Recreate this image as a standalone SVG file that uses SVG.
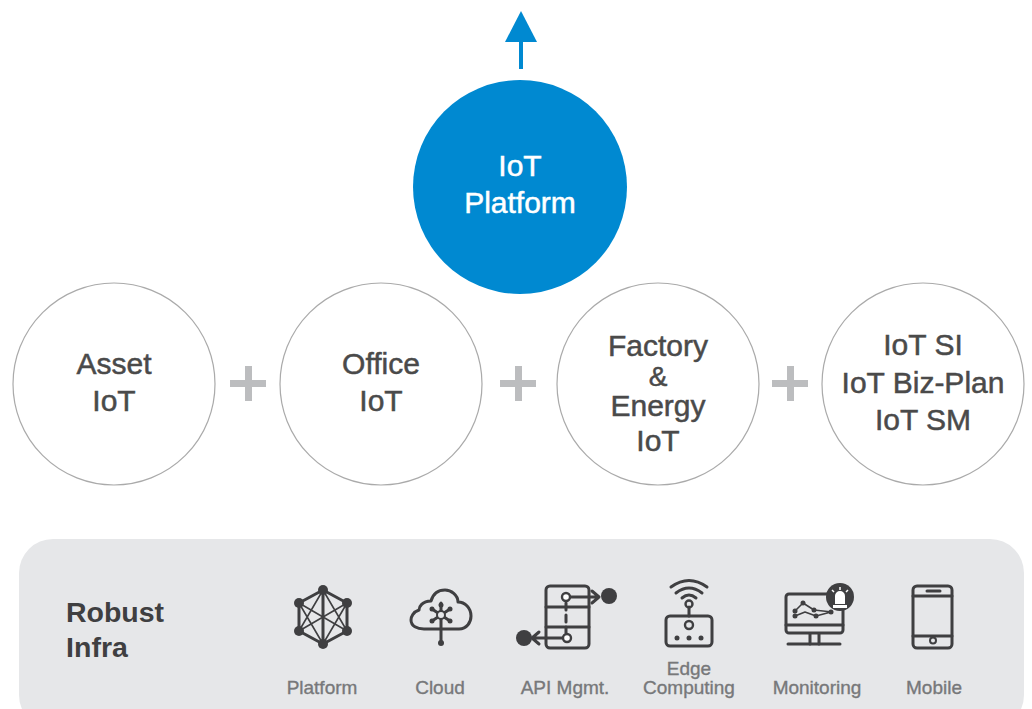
<svg xmlns="http://www.w3.org/2000/svg" width="1032" height="709" viewBox="0 0 1032 709">
<style>
text{font-family:"Liberation Sans",Arial,sans-serif;text-anchor:middle}
.c{fill:#fff;stroke:#aaaaaa;stroke-width:1.2}
.t{font-size:30px;fill:#4a4a4a;stroke:#4a4a4a;stroke-width:.5}
.w{font-size:30px;fill:#fff;stroke:#fff;stroke-width:.5}
.l{font-size:19px;fill:#77787a;stroke:#77787a;stroke-width:.35}
.b{font-size:28.500px;font-weight:700;fill:#3f3f41}
.p{fill:#bcbdbf}
.i{fill:none;stroke:#3f3f41;stroke-width:3;stroke-linejoin:round;stroke-linecap:round}
.f{fill:#3f3f41}
.th{stroke-width:1.6}
</style>
<rect x="19" y="539" width="1005" height="190" rx="34" fill="#e6e7e9"/>
<g id="connectors">
<path d="M521 69V40" stroke="#0089d1" stroke-width="4" fill="none"/>
<polygon points="521,11 537,42 505,42" fill="#0089d1"/>
</g>
<g id="platform"><circle cx="520" cy="187" r="107" fill="#0089d1"/>
<text class="w" x="520" y="176">IoT</text>
<text class="w" x="520" y="213">Platform</text></g>
<g id="asset"><circle class="c" cx="114" cy="384" r="101"/><text class="t" x="114" y="374">Asset</text><text class="t" x="114" y="411">IoT</text></g>
<g id="office"><circle class="c" cx="381" cy="384" r="101"/><text class="t" x="381" y="374">Office</text><text class="t" x="381" y="411">IoT</text></g>
<g id="factory"><circle class="c" cx="658" cy="384" r="101"/><text class="t" x="658" y="356">Factory</text><text class="t" x="658" y="386" style="font-size:28px">&amp;</text><text class="t" x="658" y="416">Energy</text><text class="t" x="658" y="451">IoT</text></g>
<g id="si"><circle class="c" cx="923" cy="384" r="101"/><text class="t" x="923" y="355">IoT SI</text><text class="t" x="923" y="393">IoT Biz-Plan</text><text class="t" x="923" y="430">IoT SM</text></g>
<g id="plus1"><path class="p" d="M245 366h7v14h14v7h-14v14h-7v-14h-15v-7h15z"/></g>
<g id="plus2"><path class="p" d="M515 366h7v14h14v7h-14v14h-7v-14h-15v-7h15z"/></g>
<g id="plus3"><path class="p" d="M787 366h7v14h14v7h-14v14h-7v-14h-15v-7h15z"/></g>
<g id="infra"><text class="b" x="115" y="622">Robust</text><text class="b" x="97" y="657">Infra</text></g>
<g id="i-platform">
<path class="i" d="M323 590L347 603V631L323 644L299 631V603Z"/>
<path class="i th" d="M299 603L347 631M347 603L299 631M323 590L299 631M323 590L347 631M323 644L299 603M323 644L347 603M299 603V631M347 603V631"/>
<path class="i" d="M323 590V644" stroke-width="4"/>
<circle class="f" cx="323" cy="590" r="5"/><circle class="f" cx="323" cy="644" r="5"/><circle class="f" cx="299" cy="603" r="5"/><circle class="f" cx="347" cy="603" r="5"/><circle class="f" cx="299" cy="631" r="5"/><circle class="f" cx="347" cy="631" r="5"/>
<text class="l" x="322" y="694">Platform</text></g>
<g id="i-cloud">
<path class="i" d="M424 629H459C467 629 471 622 471 616C471 608 465 602 458 602C458 595 451 590 445 590C438 590 433 594 431 601C422 601 419 607 419 610C413 612 411 617 411 620C411 626 417 629 424 629Z"/>
<path class="i" d="M441 603V642M432 609L450 621M450 609L432 621"/>
<circle cx="441" cy="615" r="4" fill="#e6e7e9" stroke="#3f3f41" stroke-width="2"/>
<circle class="f" cx="441" cy="643" r="3"/><circle class="f" cx="441" cy="605" r="2.500"/><circle class="f" cx="432" cy="609" r="2.500"/><circle class="f" cx="450" cy="609" r="2.500"/><circle class="f" cx="432" cy="621" r="2.500"/><circle class="f" cx="450" cy="621" r="2.500"/>
<text class="l" x="440" y="694">Cloud</text></g>
<g id="i-api">
<rect class="i" x="546" y="586" width="43" height="62" rx="4"/>
<path class="i" d="M546 607H589M546 627H589"/>
<path class="i" d="M566 603V633" stroke-dasharray="7 5" stroke-linecap="butt"/>
<path class="i" d="M570 597H599M592 591L599 597L592 603M566 638H532M539 632L532 638L539 644"/>
<circle cx="566" cy="597" r="4" fill="#fff" stroke="#3f3f41" stroke-width="2.400"/><circle cx="567" cy="638" r="4" fill="#fff" stroke="#3f3f41" stroke-width="2.400"/>
<circle class="f" cx="609" cy="596" r="8"/><circle class="f" cx="524" cy="638" r="8"/>
<text class="l" x="565" y="694">API Mgmt.</text></g>
<g id="i-edge">
<rect class="i" x="666" y="616" width="46" height="30" rx="4"/>
<path class="i" d="M689 607V616"/>
<circle cx="689" cy="604" r="3.500" fill="none" stroke="#3f3f41" stroke-width="2.400"/>
<circle cx="689" cy="625" r="4" fill="none" stroke="#3f3f41" stroke-width="2.400"/>
<path class="i" d="M682 598Q689 592 696 598M676 593Q689 583 702 593M671 587Q689 574 707 587" stroke-width="2.400"/>
<circle class="f" cx="677" cy="638" r="2.500"/><circle class="f" cx="689" cy="638" r="2.500"/><circle class="f" cx="701" cy="638" r="2.500"/>
<text class="l" x="689" y="675">Edge</text><text class="l" x="689" y="694">Computing</text></g>
<g id="i-monitoring">
<rect class="i" x="786" y="594" width="57" height="39" rx="3"/>
<path class="i" d="M786 625H843M810 634V644M819 634V644"/>
<path class="i" d="M788 644H840"/>
<path class="i th" d="M795 611L803 603L814 610L832 612M795 616L805 612L816 616L831 612" stroke-width="2"/>
<circle class="f" cx="795" cy="611" r="2.500"/><circle class="f" cx="803" cy="603" r="2.500"/><circle class="f" cx="814" cy="610" r="2.500"/><circle class="f" cx="831" cy="612" r="2.500"/><circle class="f" cx="795" cy="616" r="2.500"/><circle class="f" cx="816" cy="616" r="2.500"/>
<circle class="f" cx="840" cy="597" r="14"/>
<path d="M835 604V596A5 5 0 0 1 845 596V604ZM833 605H847V608H833Z" fill="#fff"/>
<path d="M840 587V590M832 590L834 592M848 590L846 592" stroke="#fff" stroke-width="1.500"/>
<text class="l" x="817" y="694">Monitoring</text></g>
<g id="i-mobile">
<rect class="i" x="913" y="586" width="39" height="62" rx="4"/>
<path class="i" d="M913 596H952M913 636H952M927 591H940"/>
<circle cx="933" cy="640.500" r="3" fill="none" stroke="#3f3f41" stroke-width="2"/>
<text class="l" x="934" y="694">Mobile</text></g>
</svg>
